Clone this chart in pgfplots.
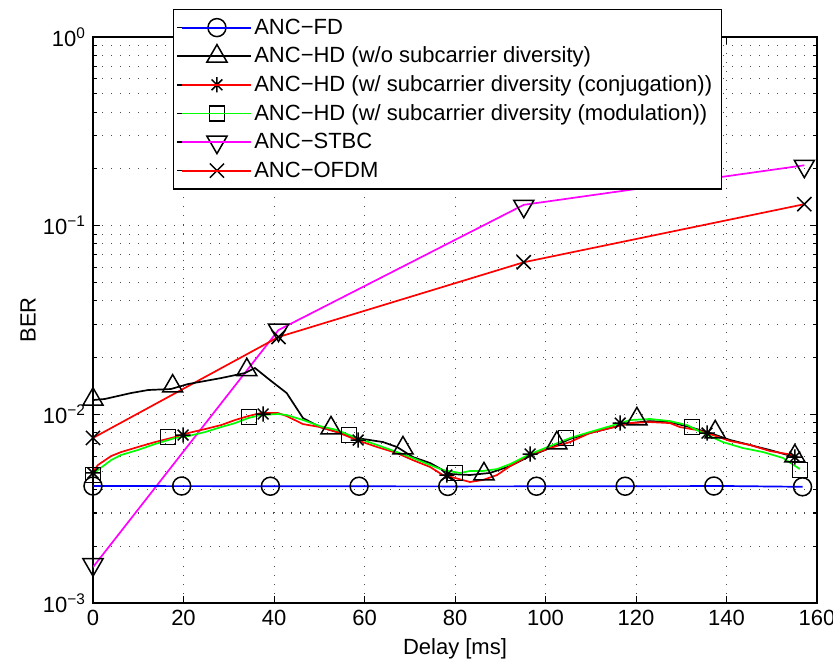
\documentclass[border=0pt]{standalone}
\usepackage{fontspec}
\setmainfont{Liberation Sans}
\usepackage{pgfplots}
\pgfplotsset{compat=1.18}
\pgfdeclareplotmark{mstar}{%
 \pgfpathmoveto{\pgfqpoint{-\pgfplotmarksize}{0pt}}\pgfpathlineto{\pgfqpoint{\pgfplotmarksize}{0pt}}%
 \pgfpathmoveto{\pgfqpoint{0pt}{-\pgfplotmarksize}}\pgfpathlineto{\pgfqpoint{0pt}{\pgfplotmarksize}}%
 \pgfpathmoveto{\pgfqpoint{-0.707\pgfplotmarksize}{-0.707\pgfplotmarksize}}\pgfpathlineto{\pgfqpoint{0.707\pgfplotmarksize}{0.707\pgfplotmarksize}}%
 \pgfpathmoveto{\pgfqpoint{-0.707\pgfplotmarksize}{0.707\pgfplotmarksize}}\pgfpathlineto{\pgfqpoint{0.707\pgfplotmarksize}{-0.707\pgfplotmarksize}}%
 \pgfusepathqstroke}
\definecolor{mred}{rgb}{1,0,0}
\definecolor{mgreen}{rgb}{0,1,0}
\definecolor{mblue}{rgb}{0,0,1}
\definecolor{mmag}{rgb}{1,0,1}
\newcommand{\fs}{\fontsize{11}{13.2}\selectfont}
\newcommand{\legimg}[3]{\addlegendimage{legend image code/.code={%
   \path (0pt,0pt) -- (37pt,0pt);
   \coordinate (#1a) at (2.5pt,0pt);
   \coordinate (#1b) at (37pt,0pt);
   \draw[black, line width=0.75pt] plot[#2, only marks] coordinates {(19.75pt,0pt)};}}%
 \addlegendentry{#3}}
\begin{document}
\begin{tikzpicture}
\path[use as bounding box] (-46.5pt,-31pt) rectangle (370pt,301.5pt);
\begin{axis}[
  at={(0,0)}, anchor=south west,
  scale only axis, width=362pt, height=283pt,
  xmin=0, xmax=160, ymin=1e-3, ymax=1,
  ymode=log,
  xtick={0,20,...,160},
  ytick={1e-3,1e-2,1e-1,1},
  yticklabels={10\textsuperscript{−3},10\textsuperscript{−2},10\textsuperscript{−1},10\textsuperscript{0}},
  /pgf/number format/assume math mode=true,
  tick label style={font=\fs},
  label style={font=\fs},
  xlabel={Delay [ms]}, ylabel={BER},
  xlabel style={at={(axis description cs:0.5,-0.0813)}, anchor=center},
  ylabel style={at={(axis description cs:-0.0898,0.5)}, anchor=center},
  tick align=inside,
  major tick length=3.5pt, minor tick length=2pt,
  tick style={black, line width=0.5pt},
  xmajorgrids, ymajorgrids, yminorgrids,
  grid style={black!70, line width=0.5pt, dash pattern=on 0.5pt off 4pt},
  minor grid style={black!70, line width=0.5pt, dash pattern=on 0.5pt off 4pt},
  axis line style={black, line width=0.6pt},
  every axis plot/.append style={line width=0.85pt},
  legend style={at={(axis description cs:0.1105,1.05)}, anchor=north west,
    fill=white, font=\fs, line width=0.6pt,
    inner xsep=1.5pt, inner ysep=2pt, column sep=-2pt,
    nodes={text height=10pt, text depth=3.3pt, inner ysep=0.5pt, inner xsep=3pt},
    legend cell align=left},
]
\legimg{LA}{mark=o, mark size=4.5pt}{ANC−FD}
\legimg{LB}{mark=triangle, mark size=5.8pt}{ANC−HD (w/o subcarrier diversity)}
\legimg{LC}{mark=mstar, mark size=3.8pt}{ANC−HD (w/ subcarrier diversity (conjugation))}
\legimg{LD}{mark=square, mark size=3.75pt}{ANC−HD (w/ subcarrier diversity (modulation))}
\legimg{LE}{mark=triangle, mark size=5.8pt, mark options={rotate=180}}{ANC−STBC}
\legimg{LF}{mark=x, mark size=5pt}{ANC−OFDM}

% ANC-STBC
\addplot[mmag, no marks, forget plot] coordinates {(0,0.00155) (41,0.0280) (95.2,0.129) (157.2,0.209)};
\addplot[only marks, mark=triangle, mark size=5.8pt, mark options={draw=black, rotate=180, line width=0.75pt}, forget plot] coordinates {(0,0.00160) (41,0.0280) (95.2,0.127) (157.2,0.207)};
% ANC-OFDM
\addplot[mred, no marks, forget plot] coordinates {(0,0.0075) (41,0.0257) (95.2,0.064) (157.2,0.130)};
\addplot[only marks, mark=x, mark size=5pt, mark options={draw=black, line width=0.75pt}, forget plot] coordinates {(0,0.0075) (41,0.0257) (95.2,0.064) (157.2,0.130)};
% ANC-FD
\addplot[mblue, no marks, forget plot] coordinates {(0,0.00417) (40,0.00416) (80,0.00415) (120,0.00416) (140,0.00417) (156.8,0.00413)};
\addplot[only marks, mark=o, mark size=4.5pt, mark options={draw=black, line width=0.75pt}, forget plot] coordinates {(0,0.00417) (19.6,0.00417) (39.2,0.00416) (58.8,0.00416) (78.4,0.00415) (98,0.00416) (117.6,0.00416) (137.2,0.00417) (156.8,0.00413)};
% ANC-HD w/o
\addplot[black, no marks, forget plot] coordinates {(0,0.01191) (2.6,0.01206) (8.4,0.01297) (12.2,0.01346) (17.2,0.01362) (21,0.01447) (28.3,0.01557) (33.6,0.01656) (35.8,0.01760) (39.1,0.01520) (42.8,0.01297) (46.4,0.00956) (50.2,0.00856) (53.9,0.00806) (58.3,0.00749) (64.1,0.00713) (67.2,0.00671) (70.7,0.00594) (74.5,0.00552) (78.9,0.00483) (83.3,0.00477) (87.7,0.00489) (92.2,0.00532) (96.6,0.00601) (101,0.00663) (105.4,0.00740) (109.8,0.00796) (114.3,0.00846) (118.7,0.00899) (123.1,0.00921) (127.5,0.00910) (131.9,0.00856) (136.4,0.00796) (140.8,0.00731) (145.2,0.00688) (149.6,0.00647) (155.1,0.00594)};
\addplot[only marks, mark=triangle, mark size=5.8pt, mark options={draw=black, line width=0.75pt}, forget plot] coordinates {(0,0.0120) (17.6,0.0141) (34.0,0.0172) (52.6,0.00846) (68.5,0.00663) (86.4,0.00483) (102.5,0.00705) (120.2,0.00945) (137.5,0.00806) (155.1,0.00601)};
% ANC-HD conjugation
\addplot[mred, no marks, forget plot] coordinates {(0,0.00496) (1.1,0.00539) (4,0.00601) (6.2,0.00631) (9.9,0.00671) (13.7,0.00713) (18.1,0.00758) (21,0.00796) (24.8,0.00836) (28.3,0.00877) (31.4,0.00933) (34.3,0.00979) (37.1,0.01016) (40.9,0.01016) (42.8,0.00979) (46.4,0.00888) (50.2,0.00856) (53.9,0.00806) (58.3,0.00731) (62.8,0.00671) (67.2,0.00623) (70.7,0.00572) (74.5,0.00526) (77.3,0.00477) (80,0.00460) (83.3,0.00438) (86.2,0.00449) (89.3,0.00477) (92.2,0.00532) (96.6,0.00609) (101,0.00663) (105.4,0.00713) (109.8,0.00796) (114.3,0.00846) (118.7,0.00899) (123.1,0.00910) (127.5,0.00899) (129.7,0.00856) (133.5,0.00826) (137,0.00777) (140.8,0.00722) (145.2,0.00688) (149.6,0.00639) (154.7,0.00609) (155.8,0.00594)};
\addplot[only marks, mark=mstar, mark size=3.8pt, mark options={draw=black, line width=0.75pt}, forget plot] coordinates {(0,0.00489) (19.9,0.00777) (37.6,0.01004) (58.6,0.00731) (78.2,0.00477) (96.6,0.00616) (116.5,0.00899) (135.7,0.00796) (155.1,0.00594)};
% ANC-HD modulation
\addplot[mgreen, no marks, forget plot] coordinates {(0,0.00477) (1.1,0.00507) (4,0.00572) (6.2,0.00609) (9.9,0.00647) (13.7,0.00696) (18.1,0.00749) (21,0.00767) (24.8,0.00806) (28.3,0.00856) (31.4,0.00899) (34.3,0.00956) (37.1,0.00992) (40.9,0.01004) (42.8,0.00992) (46.4,0.00933) (50.2,0.00866) (53.9,0.00826) (58.3,0.00749) (62.8,0.00688) (67.2,0.00631) (70.7,0.00587) (74.5,0.00539) (77.3,0.00507) (81.1,0.00489) (83.3,0.00501) (86.2,0.00501) (89.3,0.00513) (92.2,0.00545) (96.6,0.00616) (101,0.00679) (105.4,0.00749) (109.8,0.00806) (114.3,0.00866) (118.7,0.00933) (123.1,0.00945) (127.5,0.00921) (131.3,0.00877) (134.8,0.00796) (139.2,0.00713) (143.6,0.00663) (148.1,0.00631) (152.5,0.00587) (156.2,0.00513)};
\addplot[only marks, mark=square, mark size=3.75pt, mark options={draw=black, line width=0.75pt}, forget plot] coordinates {(0,0.00477) (16.6,0.00758) (34.5,0.00968) (56.6,0.00777) (80,0.00489) (104.5,0.00749) (132.4,0.00856) (156.2,0.00507)};
\end{axis}
% legend sample lines, drawn outside the legend matrix
\draw[mblue, line width=0.9pt] (LAa) -- (LAb);
\draw[black, line width=0.9pt] (LBa) -- (LBb);
\draw[mred, line width=0.9pt] (LCa) -- (LCb);
\draw[mgreen, line width=0.9pt] (LDa) -- (LDb);
\draw[mmag, line width=0.9pt] (LEa) -- (LEb);
\draw[mred, line width=0.9pt] (LFa) -- (LFb);
\end{tikzpicture}
\end{document}
